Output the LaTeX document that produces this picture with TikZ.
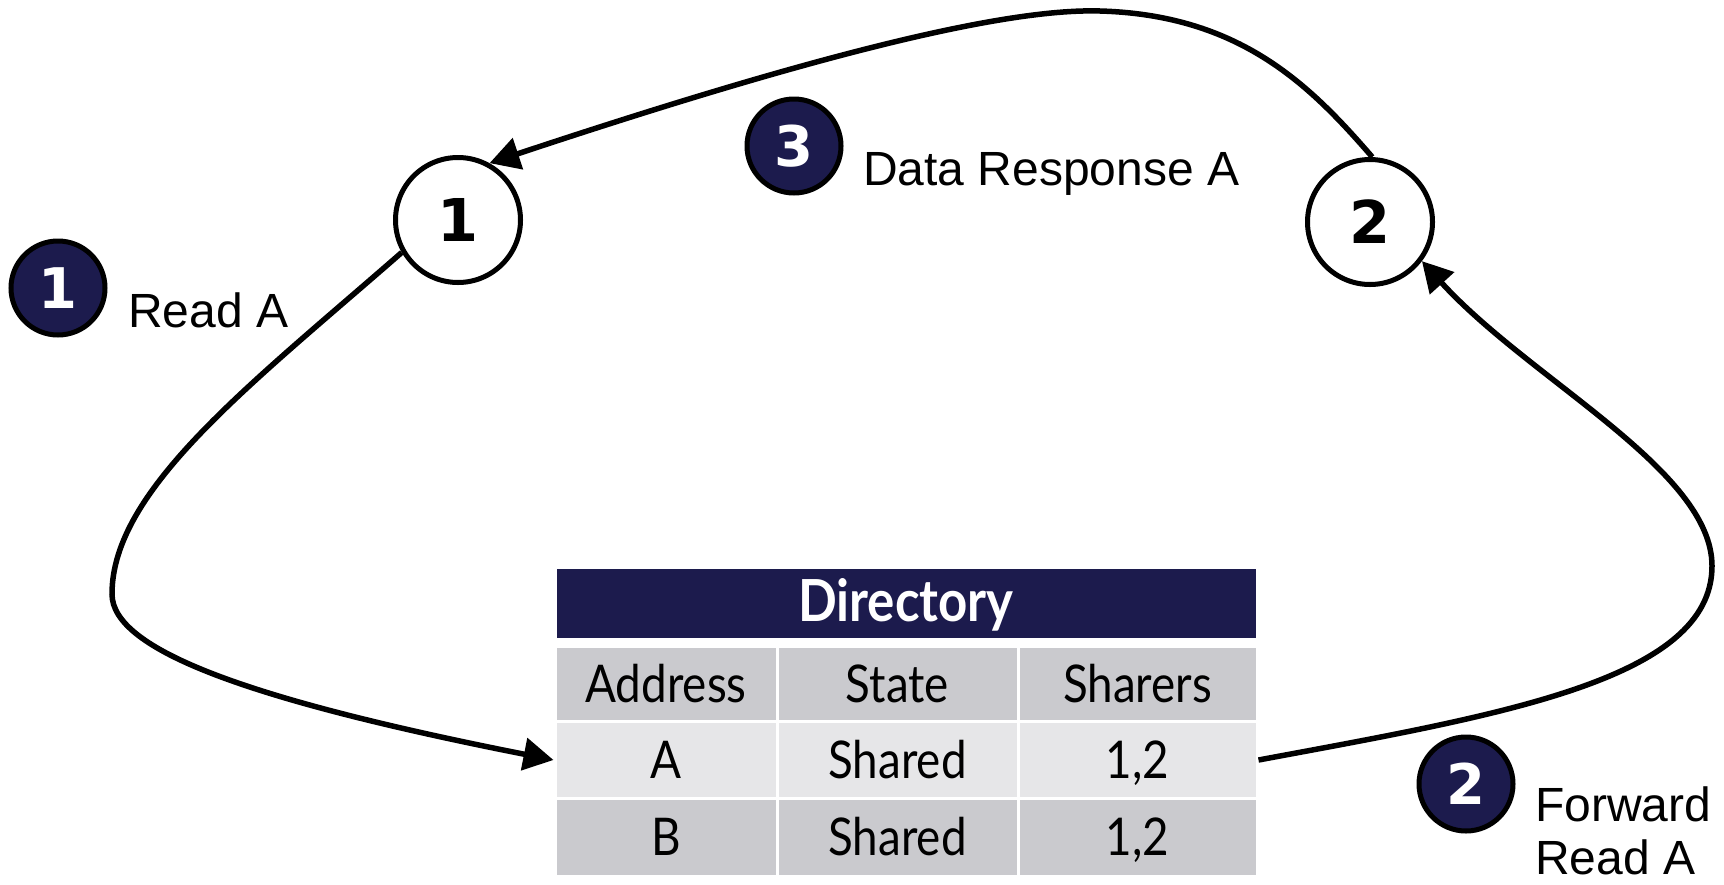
\documentclass[tikz,border=0pt]{standalone}
\usepackage{fontspec}
\setmainfont{Liberation Sans}
\newfontfamily\tablefont[FakeStretch=0.88]{Lato}
\newfontfamily\digitfont{DejaVu Sans}
\usetikzlibrary{arrows.meta}
\definecolor{navy}{RGB}{28,27,77}
\definecolor{celldark}{RGB}{202,202,206}
\definecolor{celllight}{RGB}{230,230,232}

\begin{document}
\begin{tikzpicture}[x=1pt,y=-1pt,
  proc/.style={circle,draw=black,line width=5pt,fill=white,minimum size=125pt,inner sep=0pt,
    text height=43pt,text depth=0pt,font=\digitfont\fontsize{59}{59}\selectfont\bfseries},
  badge/.style={circle,draw=black,line width=5pt,fill=navy,minimum size=94pt,inner sep=0pt,
    text=white,text height=41pt,text depth=0pt,font=\digitfont\fontsize{56}{56}\selectfont\bfseries},
  lbl/.style={anchor=base west,inner sep=0pt,font=\fontsize{48}{50}\selectfont},
  cell/.style={draw=white,line width=3pt,inner sep=0pt,text height=37pt,text depth=0pt,
    font=\tablefont\fontsize{52}{52}\selectfont},
  msg/.style={line width=5.5pt,-{Triangle[length=30pt,width=32pt]}}
]
\useasboundingbox (0,0) rectangle (1724,884);

% directory table
\node[cell,fill=navy,text=white,minimum width=702pt,minimum height=72pt,
  font=\tablefont\fontsize{58}{58}\selectfont\bfseries] (head) at (906,603) {Directory};
\node[cell,fill=celldark,minimum width=222pt,minimum height=75pt] (hA) at (666,684) {Address};
\node[cell,fill=celldark,minimum width=241pt,minimum height=75pt] (hS) at (897.5,684) {State};
\node[cell,fill=celldark,minimum width=239pt,minimum height=75pt] (hR) at (1137.5,684) {Sharers};
\node[cell,fill=celllight,minimum width=222pt,minimum height=77pt] (aA) at (666,760) {A};
\node[cell,fill=celllight,minimum width=241pt,minimum height=77pt] (aS) at (897.5,760) {Shared};
\node[cell,fill=celllight,minimum width=239pt,minimum height=77pt] (aR) at (1137.5,760) {1,2};
\node[cell,fill=celldark,minimum width=222pt,minimum height=78pt] (bA) at (666,837) {B};
\node[cell,fill=celldark,minimum width=241pt,minimum height=78pt] (bS) at (897.5,837) {Shared};
\node[cell,fill=celldark,minimum width=239pt,minimum height=78pt] (bR) at (1137.5,837) {1,2};

% processors
\node[proc] (n1) at (458,220) {1};
\node[proc] (n2) at (1370,222) {2};

% step badges and their labels
\node[badge] (b1) at (58,288) {1};
\node[lbl] (t1) at (128,327) {Read A};
\node[badge] (b3) at (794,146) {3};
\node[lbl] (t3) at (863,185) {Data Response A};
\node[badge] (b2) at (1466,784) {2};
\node[lbl] (t2a) at (1535,821) {Forward};
\node[lbl] (t2b) at (1535,874) {Read A};

% messages
\draw[msg] (n1.210) .. controls (250,385) and (112,490) .. (112,594)
  .. controls (112,650) and (250,700) .. (aA.west);
\draw[msg] (aR.east) .. controls (1500,715) and (1712,680) .. (1712,566)
  .. controls (1712,470) and (1530,380) .. (n2.-37);
\draw[msg] (n2.88) .. controls (1310,85) and (1240,15) .. (1100,11)
  .. controls (1000,8) and (800,60) .. (n1.61);
\end{tikzpicture}
\end{document}
